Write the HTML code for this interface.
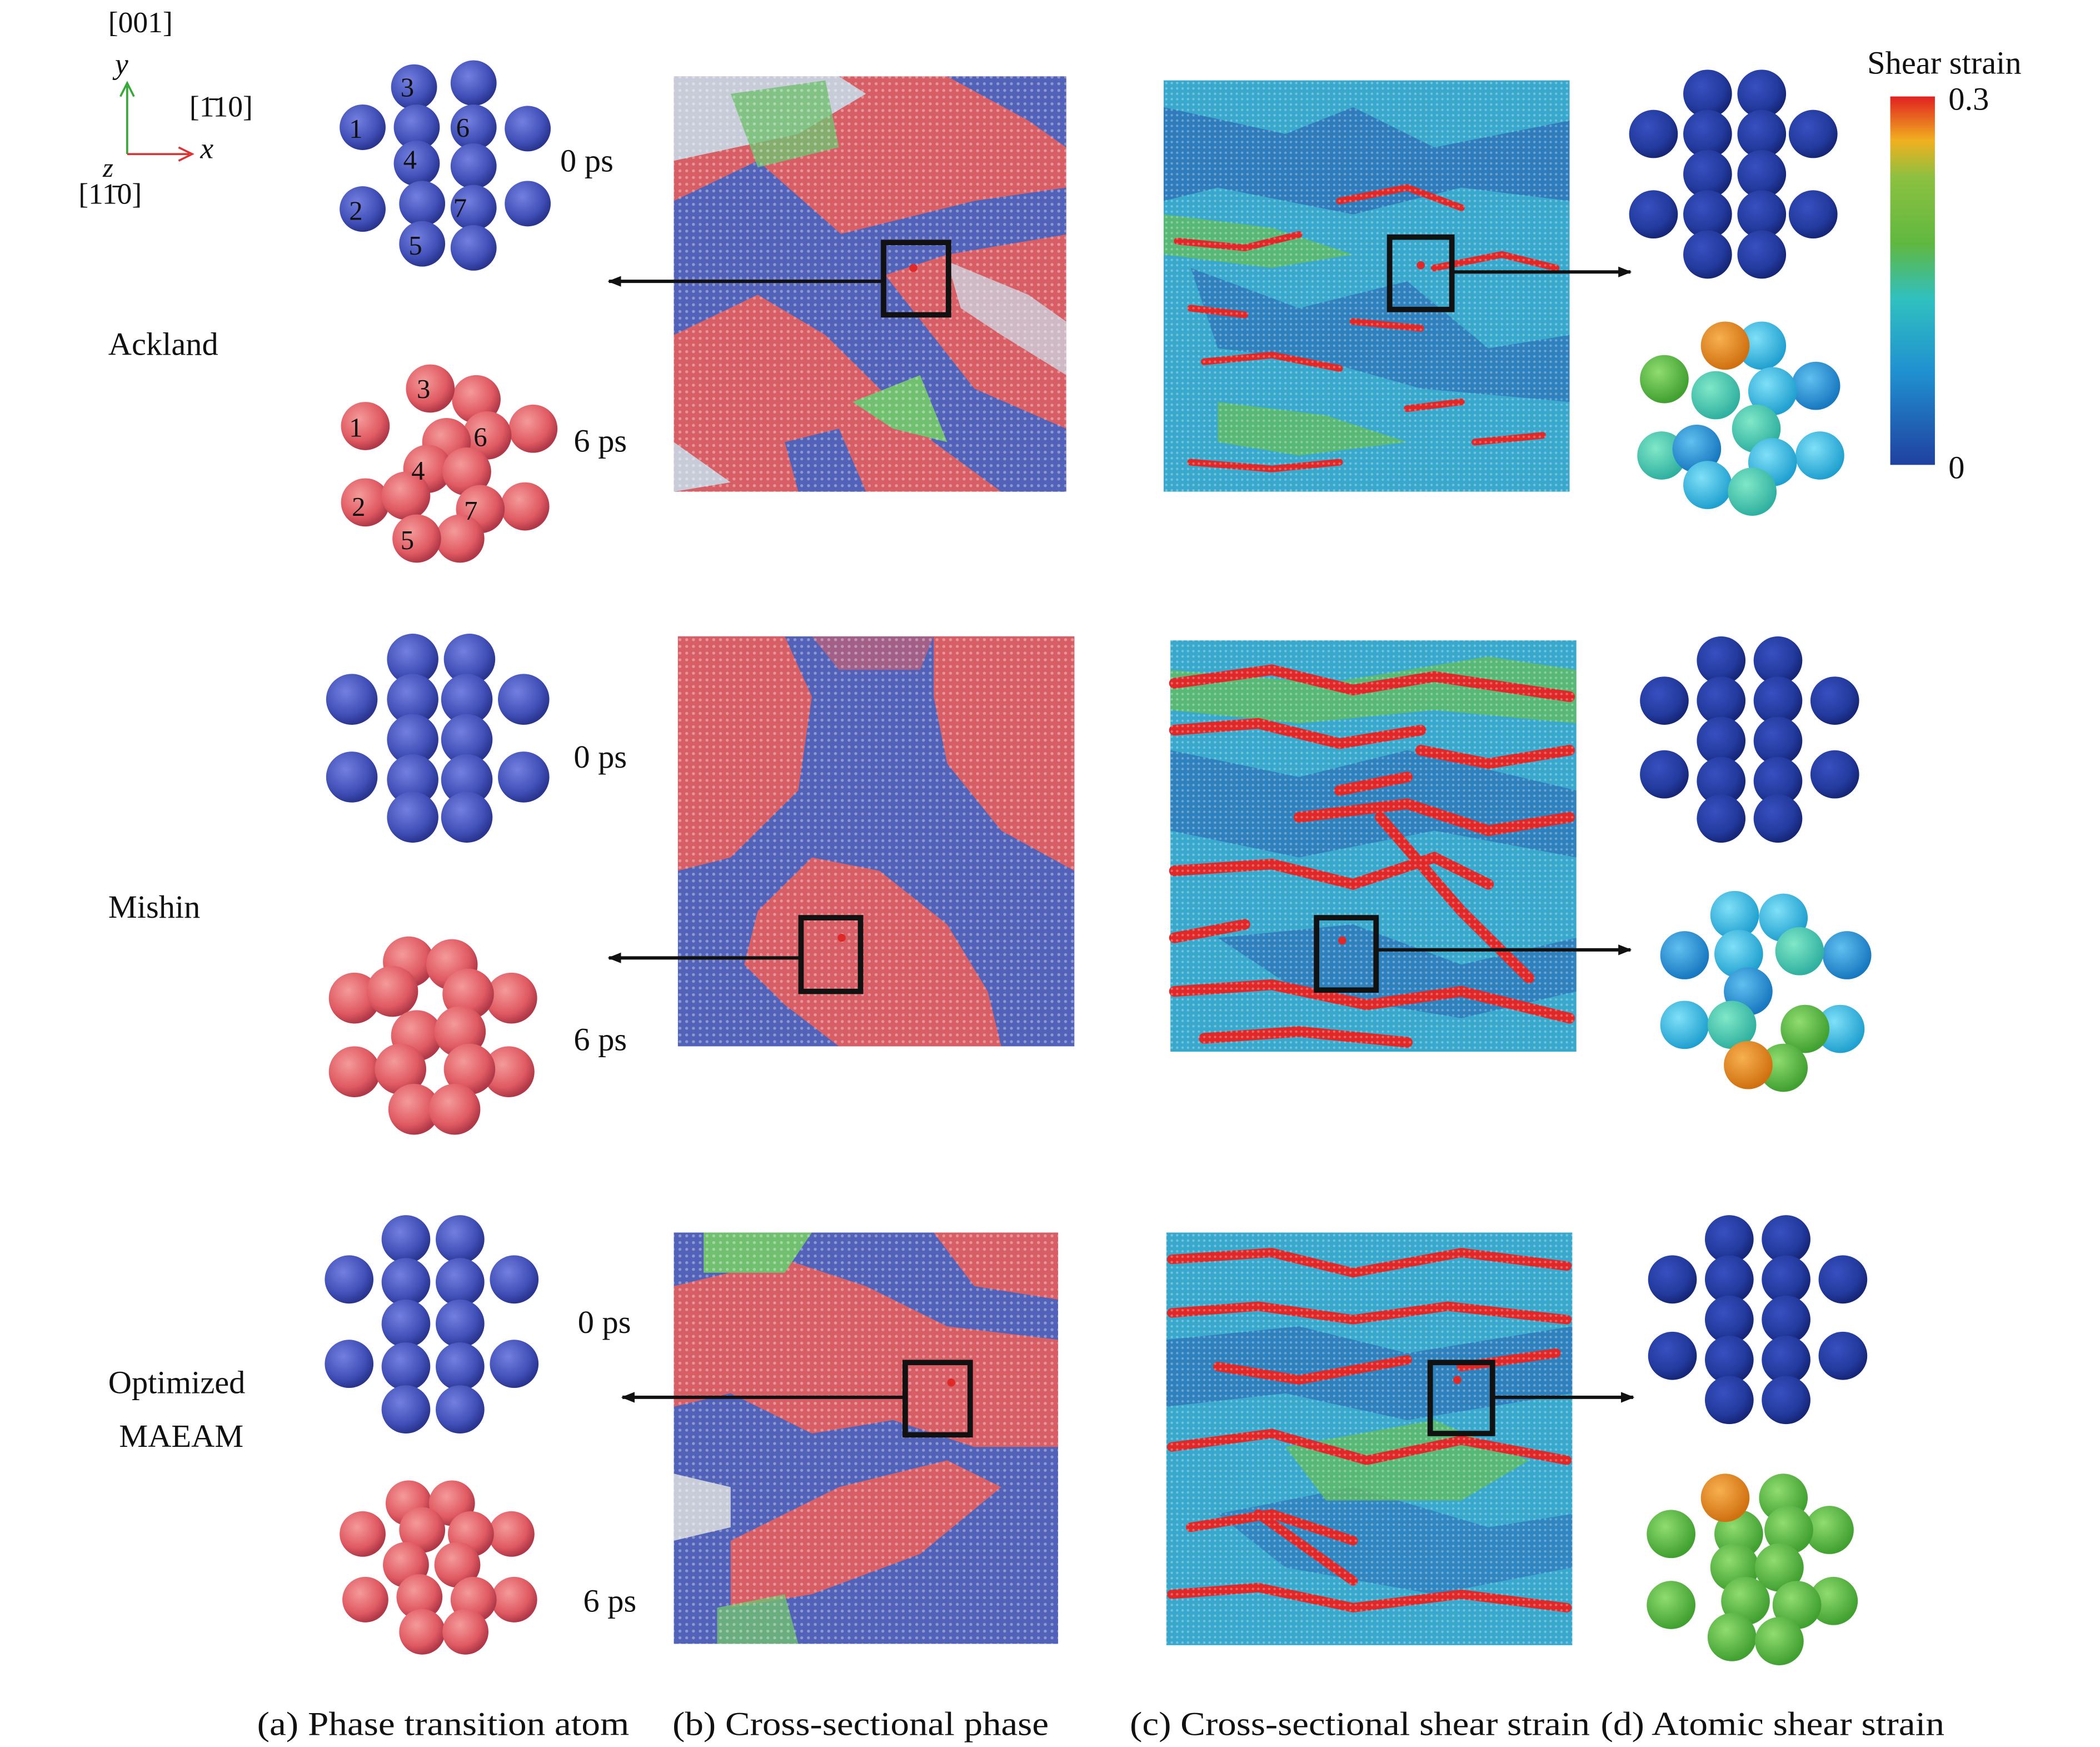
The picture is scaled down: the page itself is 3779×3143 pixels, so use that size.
<!DOCTYPE html>
<html><head><meta charset="utf-8"><style>
html,body{margin:0;padding:0;background:#fff;}
svg{display:block;}
text{font-family:"Liberation Serif",serif;fill:#111;}
</style></head><body>
<svg width="3779" height="3143" viewBox="0 0 1552 1304" preserveAspectRatio="none" xmlns="http://www.w3.org/2000/svg">
<defs>
<radialGradient id="gb" cx="38%" cy="35%" r="65%"><stop offset="0" stop-color="#7480e0"/><stop offset="0.7" stop-color="#4150b8"/><stop offset="1" stop-color="#2a3590"/></radialGradient>
<radialGradient id="gd" cx="38%" cy="35%" r="65%"><stop offset="0" stop-color="#3850c0"/><stop offset="0.7" stop-color="#233a9e"/><stop offset="1" stop-color="#162678"/></radialGradient>
<radialGradient id="gr" cx="38%" cy="35%" r="65%"><stop offset="0" stop-color="#f49a9a"/><stop offset="0.7" stop-color="#e05a62"/><stop offset="1" stop-color="#b03848"/></radialGradient>
<radialGradient id="go" cx="38%" cy="35%" r="65%"><stop offset="0" stop-color="#f8b050"/><stop offset="1" stop-color="#d07010"/></radialGradient>
<radialGradient id="gg" cx="38%" cy="35%" r="65%"><stop offset="0" stop-color="#90dc70"/><stop offset="1" stop-color="#40a030"/></radialGradient>
<radialGradient id="gc" cx="38%" cy="35%" r="65%"><stop offset="0" stop-color="#80e0f8"/><stop offset="1" stop-color="#20a0d0"/></radialGradient>
<radialGradient id="gt" cx="38%" cy="35%" r="65%"><stop offset="0" stop-color="#80e8c8"/><stop offset="1" stop-color="#30b0a0"/></radialGradient>
<radialGradient id="gs" cx="38%" cy="35%" r="65%"><stop offset="0" stop-color="#60c0f0"/><stop offset="1" stop-color="#1878c0"/></radialGradient>
<pattern id="dots" width="5" height="5" patternUnits="userSpaceOnUse"><circle cx="2.5" cy="2.5" r="1.1" fill="#fff" opacity="0.35"/></pattern>
<pattern id="dots2" width="4" height="4" patternUnits="userSpaceOnUse"><circle cx="2" cy="2" r="0.9" fill="#fff" opacity="0.3"/></pattern>
<linearGradient id="cb" x1="0" y1="1" x2="0" y2="0"><stop offset="0" stop-color="#2040a0"/><stop offset="0.25" stop-color="#2090d0"/><stop offset="0.45" stop-color="#30c0c0"/><stop offset="0.6" stop-color="#60b840"/><stop offset="0.78" stop-color="#8cc040"/><stop offset="0.88" stop-color="#f0b020"/><stop offset="1" stop-color="#e02020"/></linearGradient>
<marker id="ah" markerWidth="10" markerHeight="8" refX="9" refY="4" orient="auto" markerUnits="userSpaceOnUse"><path d="M0,0 L10,4 L0,8 Z" fill="#111"/></marker>
</defs>

<text x="80" y="24" font-size="22">[001]</text>
<text x="85" y="55" font-size="22" font-style="italic">y</text>
<line x1="94" y1="115" x2="94" y2="64" stroke="#3a3" stroke-width="1.5"/>
<path d="M89,72 L94,62 L99,72" fill="none" stroke="#3a3" stroke-width="1.5"/>
<line x1="94" y1="115" x2="140" y2="115" stroke="#d33" stroke-width="1.5"/>
<path d="M132,110 L142,115 L132,120" fill="none" stroke="#d33" stroke-width="1.5"/>
<text x="148" y="118" font-size="22" font-style="italic">x</text>
<text x="140" y="87" font-size="22">[1̄10]</text>
<text x="76" y="132" font-size="20" font-style="italic">z</text>
<text x="58" y="152" font-size="22">[11̄0]</text>

<text x="80" y="265" font-size="24">Ackland</text>
<text x="80" y="685" font-size="24">Mishin</text>
<text x="80" y="1040" font-size="24">Optimized</text>
<text x="88" y="1080" font-size="24">MAEAM</text>
<text x="414" y="128" font-size="24">0 ps</text>
<text x="424" y="337" font-size="24">6 ps</text>
<text x="424" y="573" font-size="24">0 ps</text>
<text x="424" y="784" font-size="24">6 ps</text>
<text x="427" y="995" font-size="24">0 ps</text>
<text x="431" y="1203" font-size="24">6 ps</text>

<g fill="url(#gb)">
<circle cx="350" cy="62" r="17"/><circle cx="306" cy="65" r="17"/>
<circle cx="268" cy="95" r="17"/><circle cx="390" cy="96" r="17"/>
<circle cx="350" cy="95" r="17"/><circle cx="308" cy="95" r="17"/>
<circle cx="350" cy="124" r="17"/><circle cx="308" cy="122" r="17"/>
<circle cx="268" cy="156" r="17"/><circle cx="390" cy="152" r="17"/>
<circle cx="350" cy="155" r="17"/><circle cx="312" cy="152" r="17"/>
<circle cx="350" cy="185" r="17"/><circle cx="312" cy="182" r="17"/>
</g>
<g font-size="20"><text x="296" y="72">3</text><text x="258" y="103">1</text><text x="337" y="102">6</text><text x="298" y="126">4</text><text x="258" y="164">2</text><text x="335" y="162">7</text><text x="302" y="190">5</text></g>
<g fill="url(#gr)">
<circle cx="352" cy="298" r="18"/><circle cx="318" cy="290" r="18"/>
<circle cx="270" cy="318" r="18"/><circle cx="394" cy="320" r="18"/>
<circle cx="360" cy="325" r="18"/><circle cx="330" cy="330" r="18"/>
<circle cx="316" cy="350" r="18"/><circle cx="345" cy="352" r="18"/>
<circle cx="270" cy="375" r="18"/><circle cx="388" cy="378" r="18"/>
<circle cx="355" cy="380" r="18"/><circle cx="300" cy="370" r="18"/>
<circle cx="340" cy="402" r="18"/><circle cx="308" cy="402" r="18"/>
</g>
<g font-size="20"><text x="308" y="297">3</text><text x="258" y="326">1</text><text x="350" y="333">6</text><text x="304" y="358">4</text><text x="260" y="385">2</text><text x="343" y="388">7</text><text x="296" y="410">5</text></g>

<g fill="url(#gb)">
<circle cx="305" cy="492" r="19"/><circle cx="347" cy="492" r="19"/>
<circle cx="260" cy="522" r="19"/><circle cx="387" cy="522" r="19"/>
<circle cx="305" cy="522" r="19"/><circle cx="345" cy="522" r="19"/>
<circle cx="305" cy="552" r="19"/><circle cx="345" cy="552" r="19"/>
<circle cx="260" cy="580" r="19"/><circle cx="387" cy="580" r="19"/>
<circle cx="305" cy="582" r="19"/><circle cx="345" cy="582" r="19"/>
<circle cx="305" cy="610" r="19"/><circle cx="345" cy="610" r="19"/>
</g>
<g fill="url(#gr)">
<circle cx="302" cy="718" r="19"/><circle cx="334" cy="720" r="19"/>
<circle cx="262" cy="745" r="19"/><circle cx="378" cy="745" r="19"/>
<circle cx="346" cy="742" r="19"/><circle cx="290" cy="740" r="19"/>
<circle cx="308" cy="773" r="19"/><circle cx="340" cy="770" r="19"/>
<circle cx="262" cy="800" r="19"/><circle cx="376" cy="800" r="19"/>
<circle cx="347" cy="798" r="19"/><circle cx="296" cy="798" r="19"/>
<circle cx="306" cy="828" r="19"/><circle cx="336" cy="828" r="19"/>
</g>

<g fill="url(#gb)">
<circle cx="300" cy="925" r="18"/><circle cx="340" cy="925" r="18"/>
<circle cx="258" cy="955" r="18"/><circle cx="380" cy="955" r="18"/>
<circle cx="300" cy="957" r="18"/><circle cx="340" cy="957" r="18"/>
<circle cx="300" cy="988" r="18"/><circle cx="340" cy="988" r="18"/>
<circle cx="258" cy="1018" r="18"/><circle cx="380" cy="1018" r="18"/>
<circle cx="300" cy="1020" r="18"/><circle cx="340" cy="1020" r="18"/>
<circle cx="300" cy="1052" r="18"/><circle cx="340" cy="1052" r="18"/>
</g>
<g fill="url(#gr)">
<circle cx="302" cy="1122" r="17"/><circle cx="334" cy="1122" r="17"/>
<circle cx="268" cy="1145" r="17"/><circle cx="378" cy="1145" r="17"/>
<circle cx="348" cy="1145" r="17"/><circle cx="312" cy="1142" r="17"/>
<circle cx="300" cy="1168" r="17"/><circle cx="338" cy="1168" r="17"/>
<circle cx="270" cy="1194" r="17"/><circle cx="380" cy="1194" r="17"/>
<circle cx="350" cy="1194" r="17"/><circle cx="310" cy="1192" r="17"/>
<circle cx="312" cy="1218" r="17"/><circle cx="344" cy="1218" r="17"/>
</g>

<g>
<rect x="498" y="57" width="290" height="310" fill="#d85e66"/>
<path d="M498,150 L560,120 L650,200 L720,290 L788,320 L788,367 L740,367 L690,330 L610,250 L560,220 L498,250 Z" fill="#5262b8"/>
<path d="M498,57 L620,57 L640,70 L590,100 L498,120 Z" fill="#c8ccd8"/>
<path d="M540,70 L610,60 L620,110 L560,125 Z" fill="#70c070" opacity="0.8"/>
<path d="M700,57 L788,57 L788,110 L760,90 Z" fill="#5262b8"/>
<path d="M600,180 L720,150 L788,140 L788,175 L700,190 L640,210 Z" fill="#5262b8"/>
<path d="M700,195 L760,220 L788,240 L788,280 L740,250 L710,230 Z" fill="#ccd0dc" opacity="0.8"/>
<path d="M630,300 L680,280 L700,330 L660,320 Z" fill="#70c070"/>
<path d="M498,330 L540,360 L498,367 Z" fill="#c8ccd8"/>
<path d="M580,330 L620,320 L640,367 L590,367 Z" fill="#5262b8"/>
<rect x="498" y="57" width="290" height="310" fill="url(#dots)"/>
</g>
<g>
<rect x="501" y="475" width="293" height="306" fill="#5262b8"/>
<path d="M501,475 L580,475 L600,520 L590,590 L540,640 L501,650 Z" fill="#d85e66"/>
<path d="M690,475 L794,475 L794,650 L740,620 L700,570 L690,520 Z" fill="#d85e66"/>
<path d="M560,680 L600,640 L650,650 L700,690 L730,740 L740,781 L620,781 L580,750 L550,720 Z" fill="#d85e66"/>
<path d="M600,475 L690,475 L680,500 L620,500 Z" fill="#d85e66" opacity="0.6"/>
<rect x="501" y="475" width="293" height="306" fill="url(#dots)"/>
</g>
<g>
<rect x="498" y="920" width="284" height="307" fill="#5262b8"/>
<path d="M498,960 L580,940 L640,960 L700,990 L782,1000 L782,1080 L720,1080 L660,1060 L600,1070 L540,1040 L498,1050 Z" fill="#d85e66"/>
<path d="M520,920 L600,920 L580,950 L520,950 Z" fill="#70c070"/>
<path d="M690,920 L782,920 L782,970 L720,960 Z" fill="#d85e66"/>
<path d="M540,1150 L620,1110 L700,1090 L740,1110 L680,1160 L600,1190 L540,1200 Z" fill="#d85e66"/>
<path d="M498,1100 L540,1110 L540,1140 L498,1150 Z" fill="#c8ccd8"/>
<path d="M530,1200 L580,1190 L590,1227 L530,1227 Z" fill="#70c070" opacity="0.8"/>
<rect x="498" y="920" width="284" height="307" fill="url(#dots)"/>
</g>

<g>
<rect x="860" y="60" width="300" height="307" fill="#38a8cc"/>
<path d="M860,80 L950,100 L1000,80 L1060,110 L1160,90 L1160,150 L1080,140 L1000,160 L900,140 L860,150 Z" fill="#2c70b8" opacity="0.8"/>
<path d="M880,200 L960,230 L1040,210 L1100,260 L1160,250 L1160,300 L1050,290 L980,270 L900,260 Z" fill="#2c70b8" opacity="0.7"/>
<path d="M860,160 L940,170 L1000,190 L940,200 L860,190 Z" fill="#60bc60" opacity="0.8"/>
<path d="M900,300 L980,310 L1040,330 L960,340 L900,330 Z" fill="#60bc60" opacity="0.8"/>
<g stroke="#e02828" stroke-width="5" fill="none" stroke-linecap="round">
<path d="M990,150 L1040,140 L1080,155"/><path d="M870,180 L920,185 L960,175"/><path d="M890,270 L940,265 L990,275"/><path d="M1060,200 L1110,190 L1150,200"/><path d="M880,345 L940,350 L990,345"/><path d="M1040,305 L1080,300"/><path d="M1000,240 L1050,245"/><path d="M880,230 L920,235"/><path d="M1090,330 L1140,325"/>
</g>
<rect x="860" y="60" width="300" height="307" fill="url(#dots2)"/>
</g>
<g>
<rect x="865" y="478" width="300" height="307" fill="#38a8cc"/>
<path d="M865,560 L960,580 L1040,560 L1165,590 L1165,640 L1060,620 L960,640 L865,620 Z" fill="#2c70b8" opacity="0.7"/>
<path d="M900,700 L1000,690 L1080,720 L1165,700 L1165,740 L1080,760 L960,740 Z" fill="#2c70b8" opacity="0.7"/>
<path d="M865,500 L980,510 L1100,490 L1165,500 L1165,540 L1060,530 L960,540 L865,530 Z" fill="#60bc60" opacity="0.8"/>
<g stroke="#e02828" stroke-width="8" fill="none" stroke-linecap="round">
<path d="M868,510 L940,500 L1000,515 L1060,505 L1160,520"/>
<path d="M868,545 L930,540 L990,555 L1050,545"/>
<path d="M960,610 L1040,600 L1100,620 L1160,610"/>
<path d="M868,650 L940,645 L1000,660 L1060,640 L1100,660"/>
<path d="M1020,610 L1080,680 L1130,730"/>
<path d="M868,740 L940,735 L1010,750 L1080,740 L1160,760"/>
<path d="M890,775 L960,770 L1040,778"/>
<path d="M1050,560 L1100,570 L1160,560"/>
<path d="M868,700 L920,690"/>
<path d="M990,590 L1040,580"/>
</g>
<rect x="865" y="478" width="300" height="307" fill="url(#dots2)"/>
</g>
<g>
<rect x="862" y="920" width="300" height="308" fill="#38a8cc"/>
<path d="M862,1000 L960,990 L1040,1010 L1162,990 L1162,1040 L1040,1060 L950,1040 L862,1050 Z" fill="#2c70b8" opacity="0.7"/>
<path d="M900,1130 L1000,1110 L1100,1140 L1162,1130 L1162,1170 L1060,1190 L950,1170 Z" fill="#2c70b8" opacity="0.6"/>
<path d="M950,1080 L1060,1060 L1130,1090 L1080,1120 L980,1120 Z" fill="#60bc60" opacity="0.8"/>
<g stroke="#e02828" stroke-width="7" fill="none" stroke-linecap="round">
<path d="M866,940 L940,935 L1000,950 L1080,935 L1158,945"/>
<path d="M866,980 L930,975 L1000,985 L1070,975 L1158,985"/>
<path d="M900,1020 L960,1030 L1040,1015"/>
<path d="M866,1080 L940,1070 L1010,1090 L1080,1075 L1158,1090"/>
<path d="M880,1140 L940,1130 L1000,1150"/>
<path d="M866,1190 L930,1185 L1000,1200 L1080,1190 L1158,1200"/>
<path d="M930,1130 L1000,1180"/>
<path d="M1080,1020 L1150,1010"/>
</g>
<rect x="862" y="920" width="300" height="308" fill="url(#dots2)"/>
</g>

<g fill="none" stroke="#111" stroke-width="4">
<rect x="653" y="181" width="48" height="54"/>
<rect x="1027" y="177" width="46" height="54"/>
<rect x="592" y="685" width="44" height="55"/>
<rect x="973" y="685" width="44" height="54"/>
<rect x="669" y="1017" width="48" height="54"/>
<rect x="1057" y="1017" width="46" height="53"/>
</g>
<g stroke="#111" stroke-width="2.5" fill="none">
<line x1="652" y1="210" x2="450" y2="210" marker-end="url(#ah)"/>
<line x1="1074" y1="203" x2="1205" y2="203" marker-end="url(#ah)"/>
<line x1="591" y1="715" x2="450" y2="715" marker-end="url(#ah)"/>
<line x1="1018" y1="709" x2="1205" y2="709" marker-end="url(#ah)"/>
<line x1="668" y1="1043" x2="460" y2="1043" marker-end="url(#ah)"/>
<line x1="1104" y1="1043" x2="1207" y2="1043" marker-end="url(#ah)"/>
</g>
<g fill="#e02828"><circle cx="675" cy="200" r="3"/><circle cx="1050" cy="198" r="3"/><circle cx="622" cy="700" r="3"/><circle cx="992" cy="702" r="3"/><circle cx="703" cy="1032" r="3"/><circle cx="1077" cy="1030" r="3"/></g>

<g fill="url(#gd)">
<circle cx="1262" cy="70" r="18"/><circle cx="1302" cy="70" r="18"/>
<circle cx="1222" cy="100" r="18"/><circle cx="1340" cy="100" r="18"/>
<circle cx="1262" cy="100" r="18"/><circle cx="1302" cy="100" r="18"/>
<circle cx="1262" cy="130" r="18"/><circle cx="1302" cy="130" r="18"/>
<circle cx="1222" cy="160" r="18"/><circle cx="1340" cy="160" r="18"/>
<circle cx="1262" cy="160" r="18"/><circle cx="1302" cy="160" r="18"/>
<circle cx="1262" cy="190" r="18"/><circle cx="1302" cy="190" r="18"/>
</g>
<circle cx="1302" cy="258" r="18" fill="url(#gc)"/>
<circle cx="1230" cy="283" r="18" fill="url(#gg)"/>
<circle cx="1342" cy="288" r="18" fill="url(#gs)"/>
<circle cx="1268" cy="295" r="18" fill="url(#gt)"/>
<circle cx="1310" cy="292" r="18" fill="url(#gc)"/>
<circle cx="1298" cy="320" r="18" fill="url(#gt)"/>
<circle cx="1228" cy="340" r="18" fill="url(#gt)"/>
<circle cx="1254" cy="335" r="18" fill="url(#gs)"/>
<circle cx="1345" cy="340" r="18" fill="url(#gc)"/>
<circle cx="1310" cy="345" r="18" fill="url(#gc)"/>
<circle cx="1262" cy="362" r="18" fill="url(#gc)"/>
<circle cx="1295" cy="367" r="18" fill="url(#gt)"/>
<circle cx="1275" cy="258" r="18" fill="url(#go)"/>

<g fill="url(#gd)">
<circle cx="1272" cy="493" r="18"/><circle cx="1314" cy="493" r="18"/>
<circle cx="1230" cy="523" r="18"/><circle cx="1356" cy="523" r="18"/>
<circle cx="1272" cy="523" r="18"/><circle cx="1314" cy="523" r="18"/>
<circle cx="1272" cy="553" r="18"/><circle cx="1314" cy="553" r="18"/>
<circle cx="1230" cy="578" r="18"/><circle cx="1356" cy="578" r="18"/>
<circle cx="1272" cy="583" r="18"/><circle cx="1314" cy="583" r="18"/>
<circle cx="1272" cy="611" r="18"/><circle cx="1314" cy="611" r="18"/>
</g>
<circle cx="1282" cy="683" r="18" fill="url(#gc)"/>
<circle cx="1318" cy="685" r="18" fill="url(#gc)"/>
<circle cx="1245" cy="713" r="18" fill="url(#gs)"/>
<circle cx="1365" cy="713" r="18" fill="url(#gs)"/>
<circle cx="1285" cy="712" r="18" fill="url(#gc)"/>
<circle cx="1330" cy="710" r="18" fill="url(#gt)"/>
<circle cx="1292" cy="740" r="18" fill="url(#gs)"/>
<circle cx="1245" cy="765" r="18" fill="url(#gc)"/>
<circle cx="1360" cy="768" r="18" fill="url(#gc)"/>
<circle cx="1280" cy="765" r="18" fill="url(#gt)"/>
<circle cx="1334" cy="768" r="18" fill="url(#gg)"/>
<circle cx="1318" cy="797" r="18" fill="url(#gg)"/>
<circle cx="1292" cy="795" r="18" fill="url(#go)"/>

<g fill="url(#gd)">
<circle cx="1278" cy="925" r="18"/><circle cx="1320" cy="925" r="18"/>
<circle cx="1236" cy="955" r="18"/><circle cx="1362" cy="955" r="18"/>
<circle cx="1278" cy="955" r="18"/><circle cx="1320" cy="955" r="18"/>
<circle cx="1278" cy="985" r="18"/><circle cx="1320" cy="985" r="18"/>
<circle cx="1236" cy="1012" r="18"/><circle cx="1362" cy="1012" r="18"/>
<circle cx="1278" cy="1015" r="18"/><circle cx="1320" cy="1015" r="18"/>
<circle cx="1278" cy="1045" r="18"/><circle cx="1320" cy="1045" r="18"/>
</g>
<g fill="url(#gg)">
<circle cx="1318" cy="1118" r="18"/>
<circle cx="1235" cy="1145" r="18"/><circle cx="1352" cy="1142" r="18"/>
<circle cx="1285" cy="1145" r="18"/><circle cx="1322" cy="1142" r="18"/>
<circle cx="1282" cy="1170" r="18"/><circle cx="1315" cy="1170" r="18"/>
<circle cx="1235" cy="1198" r="18"/><circle cx="1355" cy="1195" r="18"/>
<circle cx="1290" cy="1195" r="18"/><circle cx="1328" cy="1198" r="18"/>
<circle cx="1280" cy="1222" r="18"/><circle cx="1315" cy="1225" r="18"/>
</g>
<circle cx="1275" cy="1118" r="18" fill="url(#go)"/>

<text x="1380" y="55" font-size="24">Shear strain</text>
<rect x="1397" y="72" width="33" height="275" fill="url(#cb)"/>
<text x="1440" y="82" font-size="24">0.3</text>
<text x="1440" y="357" font-size="24">0</text>

<text x="190" y="1295" font-size="25" textLength="275" lengthAdjust="spacingAndGlyphs">(a) Phase transition atom</text>
<text x="497" y="1295" font-size="25" textLength="278" lengthAdjust="spacingAndGlyphs">(b) Cross-sectional phase</text>
<text x="835" y="1295" font-size="25" textLength="340" lengthAdjust="spacingAndGlyphs">(c) Cross-sectional shear strain</text>
<text x="1183" y="1295" font-size="25" textLength="254" lengthAdjust="spacingAndGlyphs">(d) Atomic shear strain</text>
</svg>
</body></html>
